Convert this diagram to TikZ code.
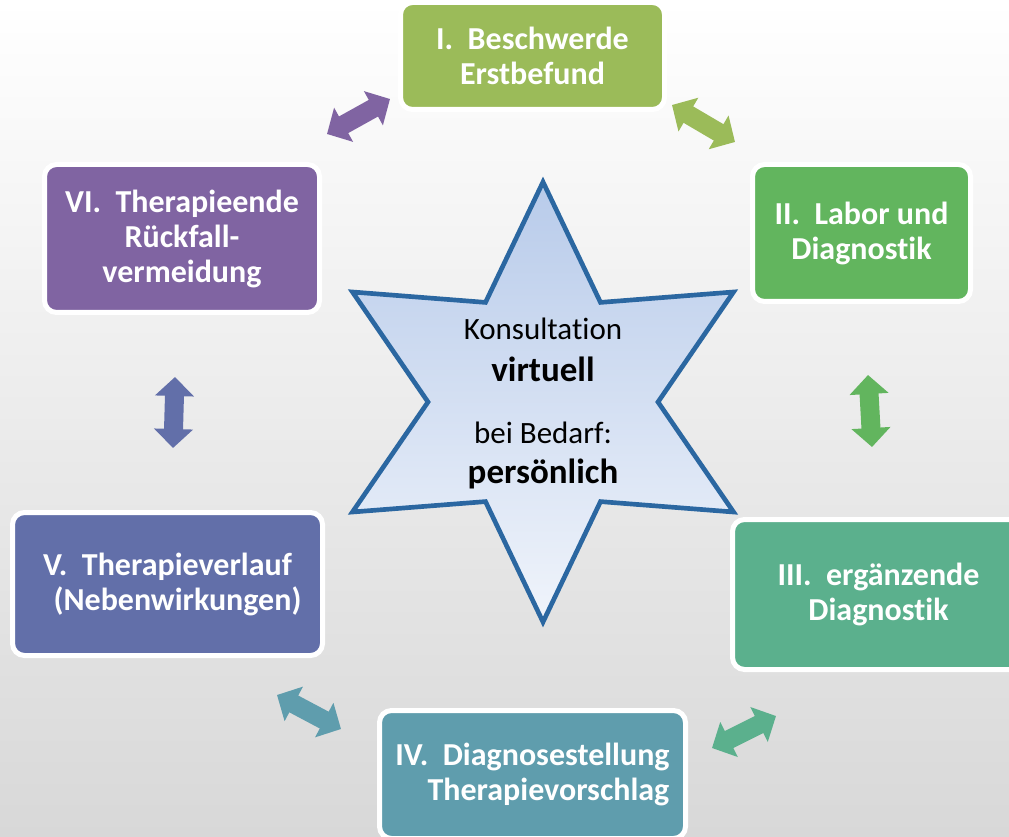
\documentclass[tikz,border=0pt]{standalone}
\usepackage{fontspec}
\setmainfont{Carlito}[Ligatures=NoCommon]
\usetikzlibrary{arrows.meta}
\definecolor{cI}{HTML}{9BBB59}
\definecolor{cII}{HTML}{62B55E}
\definecolor{cIII}{HTML}{5BB08D}
\definecolor{cIV}{HTML}{5F9DAD}
\definecolor{cV}{HTML}{626FA9}
\definecolor{cVI}{HTML}{8064A2}
\definecolor{starline}{HTML}{2B67A1}
\definecolor{startop}{HTML}{B8CBEA}
\definecolor{starbot}{HTML}{F0F4FB}
\definecolor{bgbot}{HTML}{D8D8D8}
\begin{document}
\begin{tikzpicture}[x=0.75pt,y=-0.75pt,
  box/.style={draw=white, line width=3.75pt, rounded corners=9pt, inner sep=0pt,
    align=center, text=white, font=\fontsize{24}{26.25}\selectfont\bfseries},
  dblarrow/.style={line width=14.25pt,
    {Triangle[width=28.5pt,length=14.25pt]}-{Triangle[width=28.5pt,length=14.25pt]}},
  startext/.style={anchor=base, inner sep=0pt, font=\fontsize{23.25}{28}\selectfont},
  starbold/.style={anchor=base, inner sep=0pt, font=\fontsize{26.25}{30}\selectfont\bfseries}]
\useasboundingbox (0,0) rectangle (1009,837);
\clip (0,0) rectangle (1009,837);
\shade[top color=white, bottom color=bgbot] (0,0) rectangle (1009,837);

% star
\coordinate (sc) at (543,402);
\draw[draw=starline, line width=3.5pt, miter limit=10, top color=startop, bottom color=starbot, shift={(543,402)}]
  (90:220) -- (120:115) -- (150:220) -- (180:115) -- (210:220) -- (240:115) --
  (270:220) -- (300:115) -- (330:220) -- (0:115) -- (30:220) -- (60:115) -- cycle;
\node[startext] (t1) at (543,340) {Konsultation};
\node[starbold] (t2) at (543,382) {virtuell};
\node[startext] (t3) at (543,443) {bei Bedarf:};
\node[starbold] (t4) at (543,483) {persönlich};

% boxes
\node[box, fill=cI, minimum width=198pt, minimum height=80.25pt] (b1) at (532.5,56)
  {I.\ \ Beschwerde\\Erstbefund};
\node[box, fill=cII, minimum width=163.5pt, minimum height=102.75pt] (b2) at (861.5,233)
  {II.\ \ Labor und\\Diagnostik};
\node[box, fill=cIII, minimum width=219pt, minimum height=112.5pt] (b3) at (878.5,594.5)
  {III.\ \ ergänzende\\Diagnostik};
\node[box, fill=cIV, minimum width=229.5pt, minimum height=96pt] (b4) at (532.5,774.5)
  {IV.\ \ Diagnosestellung\\\hspace*{24pt}Therapievorschlag};
\node[box, fill=cV, minimum width=232.5pt, minimum height=107.25pt] (b5) at (167.5,584)
  {V.\ \ Therapieverlauf\\\hspace*{15pt}(Nebenwirkungen)};
\node[box, fill=cVI, minimum width=206.25pt, minimum height=111pt] (b6) at (182,238.5)
  {VI.\ \ Therapieende\\Rückfall-\\vermeidung};

% arrows
\coordinate (a61) at (327,134); \coordinate (a16) at (390,99);
\coordinate (a12) at (672,105); \coordinate (a21) at (735,142);
\coordinate (a23) at (868,375); \coordinate (a32) at (872,447);
\coordinate (a34) at (776,716); \coordinate (a43) at (712,748);
\coordinate (a45) at (341,729); \coordinate (a54) at (277,695);
\coordinate (a56) at (173,448); \coordinate (a65) at (175,377);
\draw[dblarrow, cVI] (a61) -- (a16);
\draw[dblarrow, cI] (a12) -- (a21);
\draw[dblarrow, cII] (a23) -- (a32);
\draw[dblarrow, cIII] (a34) -- (a43);
\draw[dblarrow, cIV] (a45) -- (a54);
\draw[dblarrow, cV] (a56) -- (a65);
\end{tikzpicture}
\end{document}
